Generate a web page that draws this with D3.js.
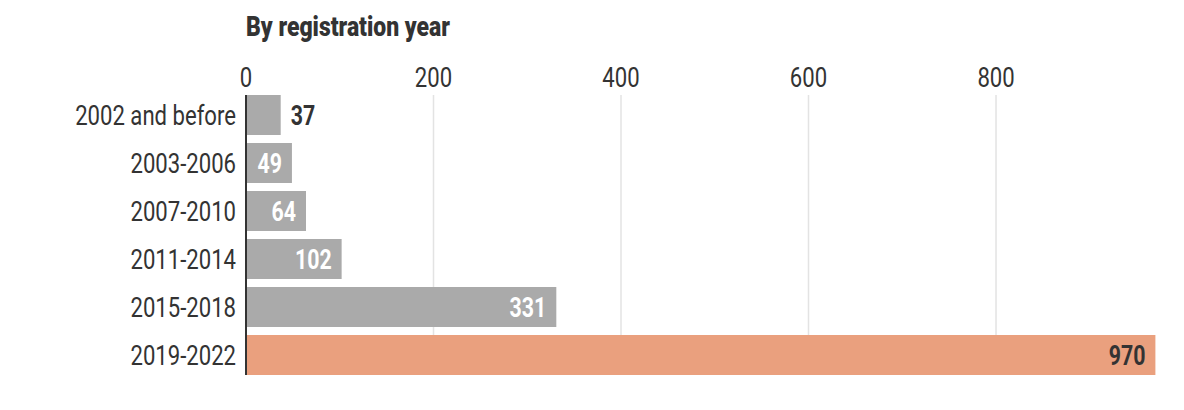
<!DOCTYPE html>
<html>
<head>
<meta charset="utf-8">
<script src="https://cdn.jsdelivr.net/npm/d3@7"></script>
<style>
  body { margin: 0; background: #fff; }
  text { font-family: Roboto, 'Noto Sans', sans-serif; fill: #333; }
</style>
</head>
<body>
<div id="chart"></div>
<script>
// data
const categories = ['2002 and before', '2003-2006', '2007-2010', '2011-2014', '2015-2018', '2019-2022'];
const counts = [37, 49, 64, 102, 331, 970];
const highlighted = ['2019-2022'];
const xTicks = [0, 200, 400, 600, 800];
const title = 'By registration year';

// squeeze fonts so they look condensed
const squeeze = 0.79;

const width = 1184;
const height = 410;
const margin = {top: 95, right: 28, bottom: 35, left: 246};
const innerW = width - margin.left - margin.right;
const innerH = height - margin.top - margin.bottom;

const svg = d3.select('#chart')
  .append('svg')
  .attr('width', width)
  .attr('height', height);

const g = svg.append('g')
  .attr('transform', 'translate(' + margin.left + ',' + margin.top + ')');

const x = d3.scaleLinear()
  .domain([0, 970])
  .range([0, 909.4]);

const y = d3.scaleBand()
  .domain(categories)
  .range([0, innerH])
  .paddingInner(1 / 6)
  .paddingOuter(0);

// gridlines
g.append('g')
  .selectAll('line')
  .data(xTicks.filter(d => d > 0))
  .join('line')
  .attr('x1', d => x(d))
  .attr('x2', d => x(d))
  .attr('y1', 0)
  .attr('y2', innerH)
  .attr('stroke', '#e3e3e3')
  .attr('stroke-width', 1.5);

// x tick labels on top
g.append('g')
  .selectAll('text')
  .data(xTicks)
  .join('text')
  .attr('transform', d => 'translate(' + x(d) + ',-8) scale(' + squeeze + ',1)')
  .attr('text-anchor', 'middle')
  .style('font-size', '28px')
  .text(d => d);

// title
svg.append('text')
  .attr('transform', 'translate(' + margin.left + ',36) scale(0.85,1)')
  .style('font-size', '27px')
  .style('font-weight', 900)
  .text(title);

// bars
g.append('g')
  .selectAll('rect')
  .data(categories)
  .join('rect')
  .attr('x', 0)
  .attr('y', d => y(d))
  .attr('width', (d, i) => x(counts[i]))
  .attr('height', y.bandwidth())
  .attr('fill', d => highlighted.includes(d) ? '#eaa07e' : '#aaaaaa');

// category labels
g.append('g')
  .selectAll('text')
  .data(categories)
  .join('text')
  .attr('transform', d => 'translate(-10,' + (y(d) + y.bandwidth() / 2) + ') scale(' + squeeze + ',1)')
  .attr('text-anchor', 'end')
  .attr('dy', '0.36em')
  .style('font-size', '28px')
  .text(d => d);

// value labels
g.append('g')
  .selectAll('text')
  .data(categories)
  .join('text')
  .attr('transform', (d, i) => {
    const inside = counts[i] >= 45;
    const px = inside ? x(counts[i]) - 10 : x(counts[i]) + 10;
    return 'translate(' + px + ',' + (y(d) + y.bandwidth() / 2) + ') scale(' + squeeze + ',1)';
  })
  .attr('text-anchor', (d, i) => counts[i] >= 45 ? 'end' : 'start')
  .attr('dy', '0.36em')
  .style('font-size', '27px')
  .style('font-weight', 700)
  .style('fill', (d, i) => (counts[i] < 45 || highlighted.includes(d)) ? '#333' : '#fff')
  .text((d, i) => counts[i]);

// y axis line
g.append('line')
  .attr('x1', 0)
  .attr('x2', 0)
  .attr('y1', 0)
  .attr('y2', innerH)
  .attr('stroke', '#333')
  .attr('stroke-width', 2);
</script>
</body>
</html>
